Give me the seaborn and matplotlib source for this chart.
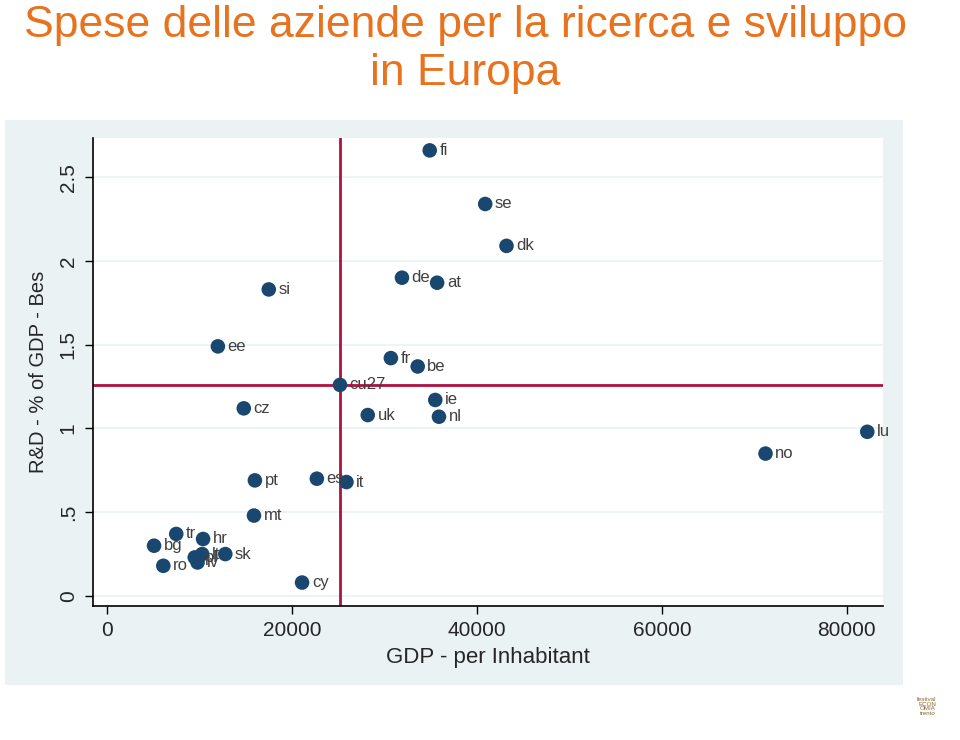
import matplotlib
matplotlib.use("Agg")
import matplotlib.pyplot as plt
import seaborn as sns
import pandas as pd
from matplotlib.patches import Rectangle

countries = ["fi", "se", "dk", "de", "at", "si", "ee", "fr", "be", "eu27", "ie", "cz",
             "uk", "nl", "lu", "no", "pt", "es", "it", "mt", "tr", "hr", "bg", "sk",
             "pl", "lt", "lv", "ro", "cy"]
gdp = [34900, 40900, 43200, 31900, 35700, 17500, 12000, 30700, 33600, 25200, 35500, 14800,
       28200, 35900, 82200, 71200, 16000, 22700, 25900, 15900, 7500, 10400, 5100, 12800,
       9500, 10300, 9800, 6100, 21100]
rd = [2.66, 2.34, 2.09, 1.90, 1.87, 1.83, 1.49, 1.42, 1.37, 1.26, 1.17, 1.12,
      1.08, 1.07, 0.98, 0.85, 0.69, 0.70, 0.68, 0.48, 0.37, 0.34, 0.30, 0.25,
      0.23, 0.25, 0.20, 0.18, 0.08]
label_names = ["cu27" if c == "eu27" else c for c in countries]
ref_x = 25200
ref_y = 1.26
xticks = [0, 20000, 40000, 60000, 80000]
yticks = [0, 0.5, 1, 1.5, 2, 2.5]
ytick_labels = ["0", ".5", "1", "1.5", "2", "2.5"]

df = pd.DataFrame({"country": countries, "gdp": gdp, "rd": rd, "label": label_names})

sns.set_style("white")
plt.rcParams["font.family"] = ["Liberation Sans", "DejaVu Sans"]

fig = plt.figure(figsize=(9.6, 7.4), dpi=100)
bg = Rectangle((5 / 960, 1 - 685 / 740), 898 / 960, 565 / 740,
               transform=fig.transFigure, facecolor="#eaf2f3",
               edgecolor="none", zorder=-10)
fig.patches.append(bg)
ax = fig.add_axes([93 / 960, 1 - 606 / 740, 790 / 960, 468 / 740])
ax.set_zorder(1)
ax.set_facecolor("white")

for yv in yticks:
    ax.axhline(yv, color="#eaf2f3", lw=1.2, zorder=0)

ax.axvline(ref_x, color="#b01040", lw=2, zorder=1)
ax.axhline(ref_y, color="#b01040", lw=2, zorder=1)

sns.scatterplot(data=df, x="gdp", y="rd", ax=ax, color="#1a476f", s=110,
                edgecolor="none", zorder=3, legend=False)
for _, r in df.iterrows():
    ax.annotate(r["label"], (r["gdp"], r["rd"]), xytext=(7, 0), textcoords="offset points",
                va="center", ha="left", fontsize=12, color="#404040", zorder=4)

ax.set_xlim(-1500, 83900)
ax.set_ylim(-0.06, 2.734)
ax.set_xticks(xticks)
ax.set_xticklabels([str(v) for v in xticks], fontsize=15)
ax.set_yticks(yticks)
ax.set_yticklabels(ytick_labels, fontsize=15, rotation=90, va="center")
ax.tick_params(axis="both", direction="out", length=6, width=1, color="black",
               left=True, bottom=True, pad=5)
for s in ["top", "right"]:
    ax.spines[s].set_visible(False)
for s in ["left", "bottom"]:
    ax.spines[s].set_color("black")
    ax.spines[s].set_linewidth(1.2)
ax.set_xlabel("GDP - per Inhabitant", fontsize=16, labelpad=5)
ax.set_ylabel("R&D - % of GDP - Bes", fontsize=14.5, labelpad=8)

fig.text(0.485, 0.993, "Spese delle aziende per la ricerca e sviluppo\nin Europa",
         ha="center", va="top", fontsize=32, color="#e8731e", linespacing=1.22)

fig.text(0.975, 0.045, "festival\nECON\nOMIA\ntrento", ha="right", va="center",
         fontsize=4.5, color="#8a6a30", linespacing=0.9)

fig.savefig("out.png", dpi=100)
